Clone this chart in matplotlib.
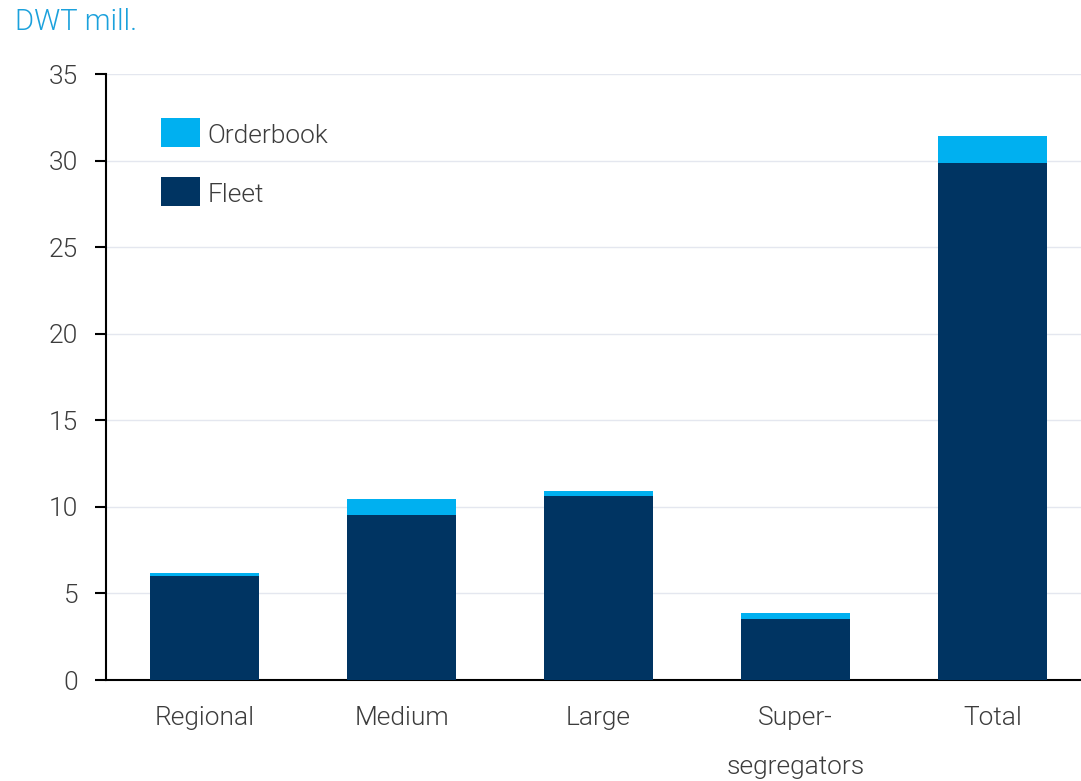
import matplotlib
matplotlib.use("Agg")
import matplotlib.pyplot as plt
import numpy as np

categories = ["Regional", "Medium", "Large", "Super-\nsegregators", "Total"]
fleet = [6.03, 9.55, 10.65, 3.54, 29.85]
orderbook = [0.13, 0.89, 0.27, 0.31, 1.58]
yticks = [0, 5, 10, 15, 20, 25, 30, 35]

plt.rcParams['font.family'] = ['Roboto', 'DejaVu Sans']
plt.rcParams['font.weight'] = 300

fig = plt.figure(figsize=(10.81, 7.81), dpi=100)
ax = fig.add_axes([106/1081, 1 - 680/781, 1 - 106/1081, (680 - 74)/781])

x = np.arange(len(categories))
w = 0.553
fleet_color = "#003462"
ob_color = "#00b0f0"
txt_color = "#3c3c3c"
ax.bar(x, fleet, width=w, color=fleet_color, label="Fleet", zorder=3)
ax.bar(x, orderbook, width=w, bottom=fleet, color=ob_color, label="Orderbook", zorder=3)

ax.set_xlim(-0.5, 4.449)
ax.set_ylim(0, 35)
ax.set_yticks(yticks)
ax.set_yticklabels([str(t) for t in yticks], fontsize=19, color=txt_color, fontweight=300)
ax.yaxis.grid(True, color="#e4e7ef", linewidth=1, zorder=0)
ax.set_axisbelow(True)
ax.tick_params(axis='y', length=8, width=1.5, color="black", pad=12)
ax.tick_params(axis='x', length=0, pad=19)
ax.set_xticks(x)
ax.set_xticklabels(categories, fontsize=19, color=txt_color, linespacing=2.27, va='top', fontweight=300)

for s in ["top", "right"]:
    ax.spines[s].set_visible(False)
ax.spines["left"].set_linewidth(1.5)
ax.spines["bottom"].set_linewidth(1.5)

handles, labels = ax.get_legend_handles_labels()
leg = ax.legend(handles[::-1], labels[::-1], loc="upper left", bbox_to_anchor=(0.035, 0.957),
                frameon=False, handlelength=1.45, handleheight=1.1,
                labelspacing=1.23, handletextpad=0.3, borderpad=0.3, labelcolor=txt_color,
                prop={'weight': 300, 'size': 19})
for p in leg.get_patches():
    p.set_height(29 * 72 / 100)

fig.text(15/1081, 1 - 22/781, "DWT mill.", fontsize=21, color="#1ba1dc", va="center", ha="left", fontweight=300)

fig.savefig("out.png", dpi=100)
